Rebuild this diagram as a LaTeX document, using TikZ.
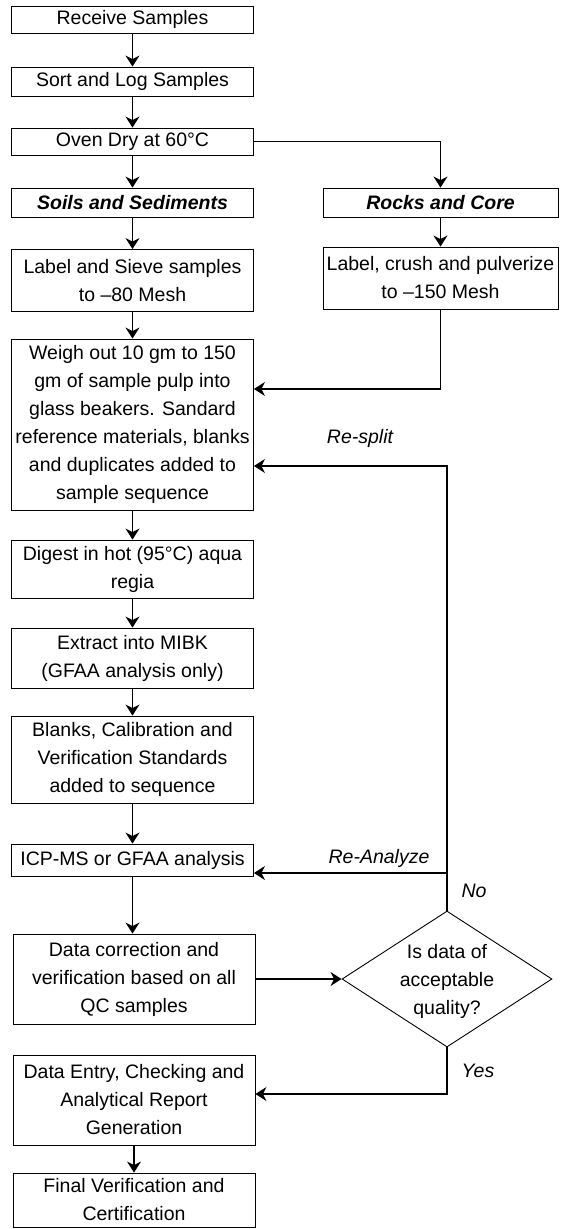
\documentclass[tikz,border=0pt]{standalone}
\usepackage{fontspec}
\setmainfont{Liberation Sans}
\usetikzlibrary{arrows.meta,shapes.geometric}
\begin{document}
\begin{tikzpicture}[x=1pt,y=-1pt,
  txt/.style={font=\fontsize{19.5}{28}\selectfont},
  box/.style={txt, draw, line width=0.9pt, inner sep=0pt, align=center, minimum width=242pt},
  rbox/.style={box, minimum width=235pt},
  decision/.style={draw, line width=0.9pt, shape=diamond, inner sep=0pt, minimum width=210pt, minimum height=136pt},
  lbl/.style={txt, font=\fontsize{19.5}{28}\selectfont\itshape, inner sep=0pt},
  arr/.style={-{Stealth[length=11pt,width=14pt,inset=3.5pt]}, line width=1.1pt},
  ln/.style={line width=1.1pt}]
\useasboundingbox (0,0) rectangle (560,1229);
\fill[white] (0,0) rectangle (560,1229);

\node[box, minimum height=27pt] (recv) at (132.5,19.5) {Receive Samples};
\node[box, minimum height=29pt] (sort) at (132.5,81.5) {Sort and Log Samples};
\node[box, minimum height=27pt] (oven) at (132.5,141.5) {Oven Dry at 60°C};
\node[box, minimum height=29pt] (soils) at (132.5,202.5) {\bfseries\itshape Soils and Sediments};
\node[box, minimum height=62pt] (sieve) at (132.5,280.5) {Label and Sieve samples\\to –80 Mesh};
\node[box, minimum height=171pt] (weigh) at (132.5,424.5) {Weigh out 10 gm to 150\\gm of sample pulp into\\glass beakers. Sandard\\reference materials, blanks\\and duplicates added to\\sample sequence};
\node[box, minimum height=58pt] (digest) at (132.5,569) {Digest in hot (95°C) aqua\\regia};
\node[box, minimum height=60pt] (extract) at (132.5,658) {Extract into MIBK\\(GFAA analysis only)};
\node[box, minimum height=87pt] (blanks) at (132.5,759.5) {Blanks, Calibration and\\Verification Standards\\added to sequence};
\node[box, minimum height=32pt] (icp) at (132.5,860) {ICP-MS or GFAA analysis};
\node[box, minimum height=90pt] (corr) at (134,979) {Data correction and\\verification based on all\\QC samples};
\node[box, minimum height=90pt] (entry) at (134,1100) {Data Entry, Checking and\\Analytical Report\\Generation};
\node[box, minimum height=54pt] (final) at (134,1200) {Final Verification and\\Certification};

\node[rbox, minimum height=29pt] (rocks) at (440.5,202.5) {\bfseries\itshape Rocks and Core};
\node[rbox, minimum height=62pt] (crush) at (440.5,278) {Label, crush and pulverize\\to –150 Mesh};

\node[decision] (dec) at (447,979) {};
\node[txt, align=center, inner sep=0pt] (dectxt) at (447,981) {Is data of\\acceptable\\quality?};

\coordinate (yA) at (0,389);
\coordinate (yS) at (0,466);
\coordinate (yR) at (0,873);
\coordinate (yY) at (0,1094);

\draw[arr] (recv) -- (sort);
\draw[arr] (sort) -- (oven);
\draw[arr] (oven) -- (soils);
\draw[arr] (soils) -- (sieve);
\draw[arr] (sieve) -- (weigh);
\draw[arr] (weigh) -- (digest);
\draw[arr] (digest) -- (extract);
\draw[arr] (extract) -- (blanks);
\draw[arr] (blanks) -- (icp);
\draw[arr] (icp.south) -- (icp.south |- corr.north);
\draw[arr] (entry.south) -- (entry.south |- final.north);

\draw[arr] (oven.east) -| (rocks.north);
\draw[arr] (rocks) -- (crush);
\draw[arr] (crush.south) |- (weigh.east |- yA);

\draw[arr] (dec.north) -- (dec.north |- yS) -- (weigh.east |- yS);
\draw[arr] (dec.north |- yR) -- (icp.east |- yR);
\draw[arr] (corr.east) -- (dec.west);
\draw[arr] (dec.south) -- (dec.south |- yY) -- (entry.east |- yY);

\node[lbl] (lsplit) at (360,438) {Re-split};
\node[lbl] (lana) at (379,858) {Re-Analyze};
\node[lbl] (lno) at (474,891) {No};
\node[lbl] (lyes) at (478,1071) {Yes};
\end{tikzpicture}
\end{document}
